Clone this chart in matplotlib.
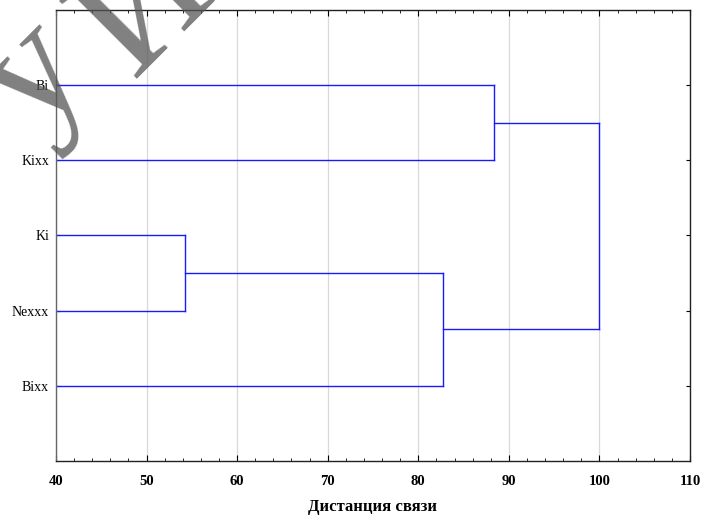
import matplotlib
matplotlib.use("Agg")
import matplotlib.pyplot as plt
from matplotlib.ticker import MultipleLocator

# данные дендрограммы
leaves = ["Bi", "Kixx", "Ki", "Nexxx", "Bixx"]
merge_a = ["Bi", "Ki", "B", "A"]
merge_b = ["Kixx", "Nexxx", "Bixx", "C"]
merge_h = [88.4, 54.2, 82.7, 100.0]
merge_name = ["A", "B", "C", "D"]

x_ticks = [40, 50, 60, 70, 80, 90, 100, 110]
x_label = "Дистанция связи"

plt.rcParams["font.family"] = ["Liberation Serif", "DejaVu Serif"]

fig = plt.figure(figsize=(7.02, 5.17), dpi=100)
ax = fig.add_axes([56 / 702, 1 - 461 / 517, 634 / 702, 451 / 517])

pos = {name: i + 1 for i, name in enumerate(leaves)}
height = {name: x_ticks[0] for name in leaves}
line_col = "#1a1aff"
for a, b, h, n in zip(merge_a, merge_b, merge_h, merge_name):
    pa, pb = pos[a], pos[b]
    ax.plot([height[a], h], [pa, pa], color=line_col, lw=1.0)
    ax.plot([height[b], h], [pb, pb], color=line_col, lw=1.0)
    ax.plot([h, h], [pa, pb], color=line_col, lw=1.0)
    pos[n] = (pa + pb) / 2
    height[n] = h

ax.set_xlim(x_ticks[0], x_ticks[-1])
ax.set_ylim(len(leaves) + 1, 0)
ax.set_xticks(x_ticks)
ax.xaxis.set_minor_locator(MultipleLocator(2))
ax.set_yticks(range(1, len(leaves) + 1))
ax.set_yticklabels(leaves, fontsize=10)
ax.set_xticklabels([str(t) for t in x_ticks], fontsize=10.5, fontweight="bold")
ax.set_xlabel(x_label, fontsize=12, fontweight="bold", labelpad=8)

ax.tick_params(axis="both", which="both", direction="in", top=True, right=True)
ax.tick_params(axis="x", which="major", length=4, pad=10)
ax.tick_params(axis="x", which="minor", length=2)
ax.tick_params(axis="y", length=3, pad=5)

ax.grid(axis="x", color="#d9d9d9", lw=0.9)
ax.set_axisbelow(True)
for s in ax.spines.values():
    s.set_linewidth(1.0)
    s.set_color("#222222")
ax.spines["left"].set_color("#666666")

# водяной знак (обрезан краем картинки, как в оригинале)
wm = dict(fontsize=120, rotation=45, rotation_mode="anchor", color="#555555",
          alpha=0.75, family="Liberation Serif", ha="left", va="baseline")
fig.text(0.05, 0.737, "у", **wm)
fig.text(0.189, 0.847, "И", **wm)

fig.savefig("out.png", dpi=100)
